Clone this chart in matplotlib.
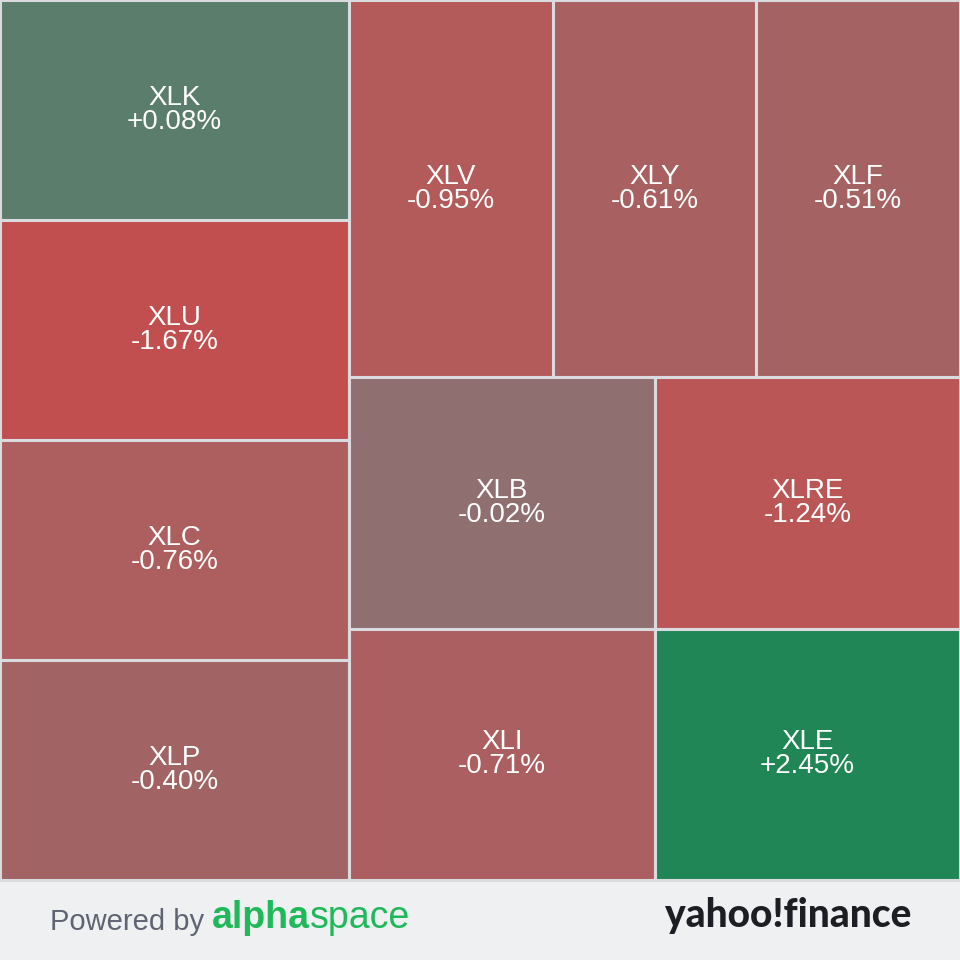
import numpy as np
import matplotlib.pyplot as plt
from matplotlib.patches import Rectangle

# sector ETFs, in treemap order; all tiles carry the same weight
tickers = ['XLK', 'XLU', 'XLC', 'XLP', 'XLV', 'XLY', 'XLF', 'XLB', 'XLI', 'XLRE', 'XLE']
changes = [0.08, -1.67, -0.76, -0.40, -0.95, -0.61, -0.51, -0.02, -0.71, -1.24, 2.45]
weights = [1] * len(tickers)

W, H = 960, 880  # treemap area in pixels, footer below
PHI = (1 + 5 ** 0.5) / 2

# colour scale
neg_pts = [-3.0, -1.67, -1.24, -0.95, -0.71, -0.40, 0.0]
neg_cols = ['#cc4848', '#c24f4f', '#bb5657', '#b35a5a', '#ac5f60', '#a16364', '#8e7070']
pos_pts = [0.0, 0.08, 2.45, 3.0]
pos_cols = ['#5e7c6e', '#5a7d6c', '#218656', '#1b8a55']


def hex2rgb(h):
    return np.array([int(h[i:i + 2], 16) / 255 for i in (1, 3, 5)])


def tile_color(v):
    if v < 0:
        pts, cols = neg_pts, neg_cols
    else:
        pts, cols = pos_pts, pos_cols
    rgb = np.array([hex2rgb(c) for c in cols])
    return tuple(np.interp(v, pts, rgb[:, k]) for k in range(3))


def squarify(values, x0, y0, x1, y1, ratio=PHI):
    # port of d3.treemapSquarify
    out = []
    n = len(values)
    value = float(sum(values))
    i0 = i1 = 0
    while i0 < n:
        dx, dy = x1 - x0, y1 - y0
        s = values[i1]
        i1 += 1
        mn = mx = s
        alpha = max(dy / dx, dx / dy) / (value * ratio)
        beta = s * s * alpha
        min_ratio = max(mx / beta, beta / mn)
        while i1 < n:
            v = values[i1]
            s2 = s + v
            mn2, mx2 = min(mn, v), max(mx, v)
            beta = s2 * s2 * alpha
            new_ratio = max(mx2 / beta, beta / mn2)
            if new_ratio > min_ratio:
                break
            s, mn, mx, min_ratio = s2, mn2, mx2, new_ratio
            i1 += 1
        row = values[i0:i1]
        if dx < dy:
            # row across the top
            h = dy * s / value
            xx = x0
            for v in row:
                w = dx * v / s
                out.append((xx, y0, w, h))
                xx += w
            y0 += h
        else:
            # column down the left
            w = dx * s / value
            yy = y0
            for v in row:
                h = dy * v / s
                out.append((x0, yy, w, h))
                yy += h
            x0 += w
        value -= s
        i0 = i1
    return out


rects = squarify(weights, 0, 0, W, H)

fig = plt.figure(figsize=(9.6, 9.6), dpi=100)
fig.patch.set_facecolor('#eef0f2')
ax = fig.add_axes([0, 0, 1, 1])
ax.set_xlim(0, 960)
ax.set_ylim(960, 0)
ax.axis('off')

for (x, y, w, h), t, c in zip(rects, tickers, changes):
    ax.add_patch(Rectangle((x, y), w, h, facecolor=tile_color(c),
                           edgecolor='#d9dbdf', linewidth=2.2))
    cx, cy = x + w / 2, y + h / 2
    ax.text(cx, cy - 12, t, color='white', fontsize=20, ha='center', va='center',
            family='Liberation Sans')
    ax.text(cx, cy + 12, f'{c:+.2f}%', color='white', fontsize=20, ha='center',
            va='center', family='Liberation Sans')

# footer
ax.text(50, 922, 'Powered by ', color='#5f6473', fontsize=21, ha='left', va='center',
        family='Liberation Sans')
t1 = ax.text(212, 918, 'alpha', color='#1fb95a', fontsize=27, ha='left', va='center',
             family='Liberation Sans', fontweight='bold')
fig.canvas.draw()
bb = t1.get_window_extent().transformed(ax.transData.inverted())
ax.text(bb.x1, 918, 'space', color='#1fb95a', fontsize=27, ha='left', va='center',
        family='Liberation Sans')
ax.text(911, 916, 'yahoo!finance', color='#1d1d24', fontsize=28, ha='right',
        va='center', family=['Lato', 'DejaVu Sans'], fontweight='black')

fig.savefig('out.png', dpi=100, facecolor=fig.get_facecolor())
